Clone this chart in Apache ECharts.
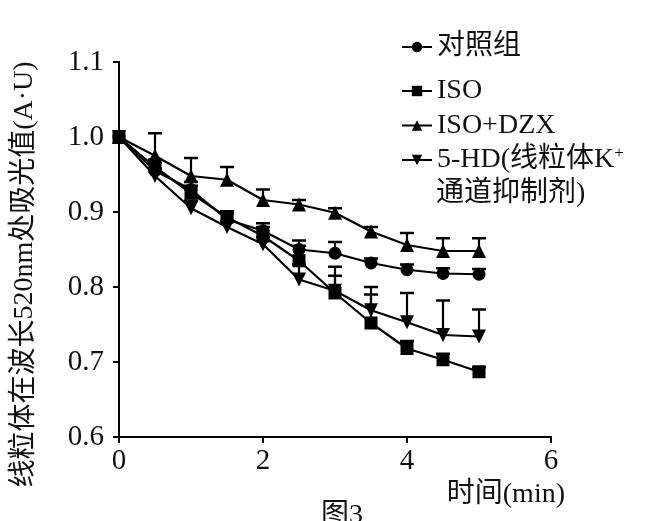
<!DOCTYPE html>
<html><head><meta charset="utf-8">
<script src="https://cdn.jsdelivr.net/npm/echarts@6/dist/echarts.min.js"></script>
<style>html,body{margin:0;padding:0;background:#fff}#c{width:652px;height:521px}</style>
</head><body><div id="c"></div>
<script>
var times = [0, 0.5, 1, 1.5, 2, 2.5, 3, 3.5, 4, 4.5, 5];
var seriesNames = ['对照组', 'ISO', 'ISO+DZX', '5-HD(线粒体K+通道抑制剂)'];
var controlVals = [1.0, 0.955, 0.93, 0.89, 0.875, 0.85, 0.845, 0.832, 0.823, 0.818, 0.817];
var isoVals     = [1.0, 0.96, 0.925, 0.893, 0.868, 0.835, 0.792, 0.752, 0.718, 0.703, 0.687];
var dzxVals     = [1.0, 0.975, 0.948, 0.943, 0.916, 0.91, 0.899, 0.874, 0.856, 0.848, 0.848];
var hdVals      = [1.0, 0.948, 0.905, 0.88, 0.857, 0.81, 0.795, 0.769, 0.753, 0.736, 0.734];
var controlErr  = [0, 0.01, 0.01, 0.008, 0.01, 0.012, 0.015, 0.006, 0.007, 0.007, 0.007];
var isoErr      = [0, 0.01, 0.01, 0.008, 0.012, 0.02, 0.035, 0.038, 0.01, 0.008, 0.006];
var dzxErr      = [0, 0.03, 0.024, 0.017, 0.014, 0.006, 0.006, 0.006, 0.016, 0.017, 0.017];
var hdErr       = [0, 0.01, 0.01, 0.008, 0.01, 0.02, 0.02, 0.031, 0.039, 0.046, 0.036];
var xTicks = [0, 2, 4, 6];
var yTicks = [0.6, 0.7, 0.8, 0.9, 1.0, 1.1];

var serif = '"Liberation Serif","Times New Roman","Noto Sans CJK SC",serif';
var vals = [controlVals, isoVals, dzxVals, hdVals];
var errs = [controlErr, isoErr, dzxErr, hdErr];
var symbols = ['circle', 'rect', 'triangle', 'triangle'];
var rots = [0, 0, 0, 180];
var sizes = [13, 13, 14, 14];

var series = [];
vals.forEach(function (v, i) {
  series.push({
    name: seriesNames[i], type: 'line',
    data: times.map(function (t, j) { return [t, v[j]]; }),
    symbol: symbols[i], symbolRotate: rots[i], symbolSize: sizes[i],
    lineStyle: { color: '#000', width: 2.2 },
    itemStyle: { color: '#000' },
    z: 3
  });
  series.push({
    type: 'custom', name: seriesNames[i] + '_err', silent: true, z: 2,
    data: times.map(function (t, j) { return [t, v[j], v[j] + errs[i][j]]; }),
    renderItem: function (params, api) {
      var p0 = api.coord([api.value(0), api.value(1)]);
      var p1 = api.coord([api.value(0), api.value(2)]);
      if (Math.abs(p0[1] - p1[1]) < 1) return null;
      return { type: 'group', children: [
        { type: 'line', shape: { x1: p0[0], y1: p0[1], x2: p1[0], y2: p1[1] }, style: { stroke: '#000', lineWidth: 2.2 } },
        { type: 'line', shape: { x1: p1[0] - 7, y1: p1[1], x2: p1[0] + 7, y2: p1[1] }, style: { stroke: '#000', lineWidth: 2.5 } }
      ]};
    }
  });
});

var txt = { fontFamily: serif, fontSize: 28, fontWeight: 'normal', color: '#111' };
var chart = echarts.init(document.getElementById('c'), null, { renderer: 'canvas' });
chart.setOption({
  animation: false,
  backgroundColor: '#fff',
  title: [
    { text: '图3', left: 316, top: 497, textStyle: txt },
    { text: '通道抑制剂)', left: 431, top: 175, textStyle: txt }
  ],
  grid: { left: 119, top: 62, width: 432, height: 375 },
  legend: [{
    data: [seriesNames[0]], orient: 'vertical', left: 396, top: 27,
    itemWidth: 30, itemHeight: 13, itemGap: 4,
    textStyle: { fontFamily: serif, fontSize: 28, color: '#111', lineHeight: 30 }
  }, {
    data: seriesNames.slice(1), orient: 'vertical', left: 396, top: 71,
    itemWidth: 30, itemHeight: 13, itemGap: 4.5,
    formatter: function (n) { return n === seriesNames[3] ? '5-HD(线粒体K{sup|+}' : n; },
    textStyle: { fontFamily: serif, fontSize: 28, color: '#111', lineHeight: 30,
      rich: { sup: { fontSize: 17, verticalAlign: 'top', padding: [0, 0, 12, 0], fontFamily: serif, color: '#111' } } }
  }],
  xAxis: {
    type: 'value', min: 0, max: 6, interval: 2,
    name: '时间(min)', nameLocation: 'end', nameGap: 14,
    nameTextStyle: { fontFamily: serif, fontSize: 28, color: '#111', align: 'right', verticalAlign: 'top', padding: [44, 0, 0, 0] },
    axisLine: { lineStyle: { color: '#000', width: 2 } },
    axisTick: { show: true, length: 6, lineStyle: { color: '#000', width: 2 } },
    axisLabel: { fontFamily: serif, fontSize: 29, color: '#111', margin: 10,
      formatter: function (v) { return xTicks.indexOf(v) >= 0 ? String(v) : ''; } },
    splitLine: { show: false }
  },
  yAxis: {
    type: 'value', min: 0.6, max: 1.1, interval: 0.1,
    name: '线粒体在波长520nm处吸光值(A·U)', nameLocation: 'middle', nameGap: 80, nameRotate: 90,
    nameTextStyle: { fontFamily: serif, fontSize: 28, color: '#111', padding: [0, 50, 0, 0] },
    axisLine: { show: true, lineStyle: { color: '#000', width: 2 } },
    axisTick: { show: true, length: 6, lineStyle: { color: '#000', width: 2 } },
    axisLabel: { fontFamily: serif, fontSize: 29, color: '#111', margin: 15,
      formatter: function (v) { var r = Math.round(v * 10) / 10; return yTicks.indexOf(r) >= 0 ? r.toFixed(1) : ''; } },
    splitLine: { show: false }
  },
  series: series
});
</script></body></html>
